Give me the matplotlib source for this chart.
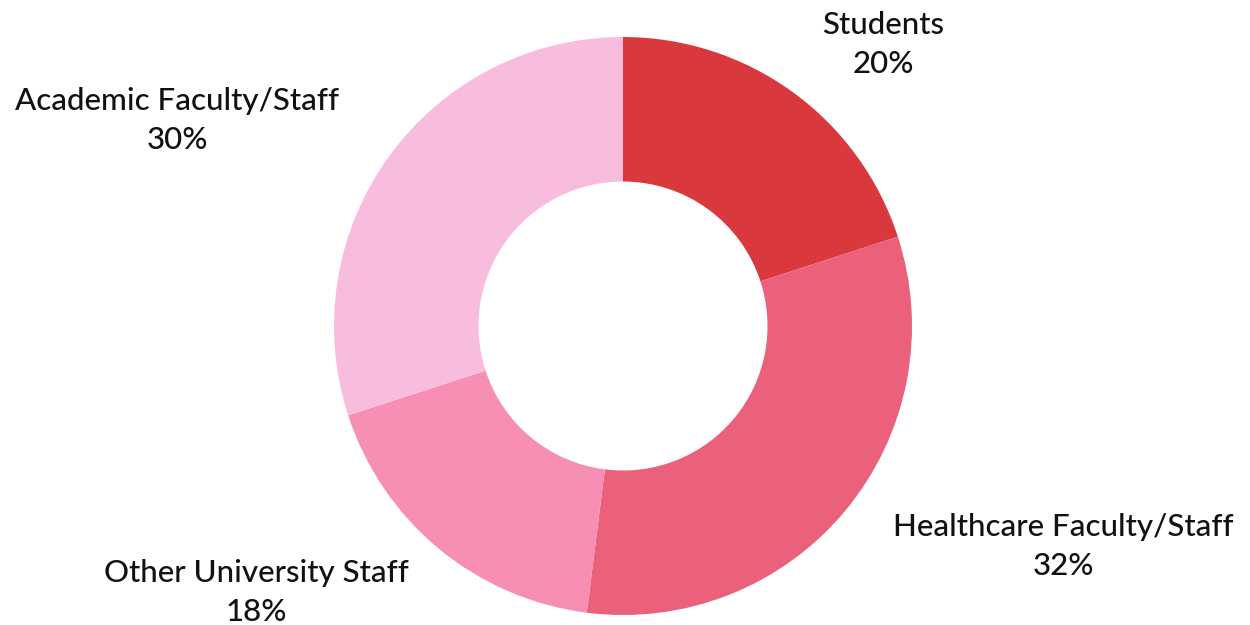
import matplotlib
matplotlib.use("Agg")
import matplotlib.pyplot as plt

# ---------------------------------------------------------------------------
# Data
# ---------------------------------------------------------------------------
labels = ["Students", "Healthcare Faculty/Staff", "Other University Staff",
          "Academic Faculty/Staff"]
shares = [20, 32, 18, 30]
colors = ["#D9393D", "#EB607B", "#F78FB4", "#F8BCDE"]

# label centres in pixels (x, y of the name line)
label_px = [(883, 25), (1063, 527), (256, 573), (177, 101)]

W, H = 1250, 625
CX, CY, R = 623, 326, 289

plt.rcParams["font.family"] = ["Lato", "DejaVu Sans"]

fig = plt.figure(figsize=(W / 100, H / 100), dpi=100)
ax = fig.add_axes([0, 0, 1, 1])
ax.pie(shares, colors=colors, startangle=90, counterclock=False,
       radius=1.0, wedgeprops=dict(width=0.5, linewidth=0))
ax.set_xlim(-CX / R, (W - CX) / R)
ax.set_ylim(-(H - CY) / R, CY / R)
ax.set_aspect("equal")
ax.axis("off")


def px(x, y):
    return (x - CX) / R, (CY - y) / R


for lab, val, (x, y) in zip(labels, shares, label_px):
    tx, ty = px(x, y)
    ax.text(tx, ty, lab, ha="center", va="center", fontsize=22.5,
            fontweight="medium", color="#111111")
    tx, ty = px(x, y + 39)
    ax.text(tx, ty, f"{val}%", ha="center", va="center", fontsize=22.5,
            fontweight="medium", color="#111111")

fig.savefig("out.png", dpi=100, facecolor="white")
